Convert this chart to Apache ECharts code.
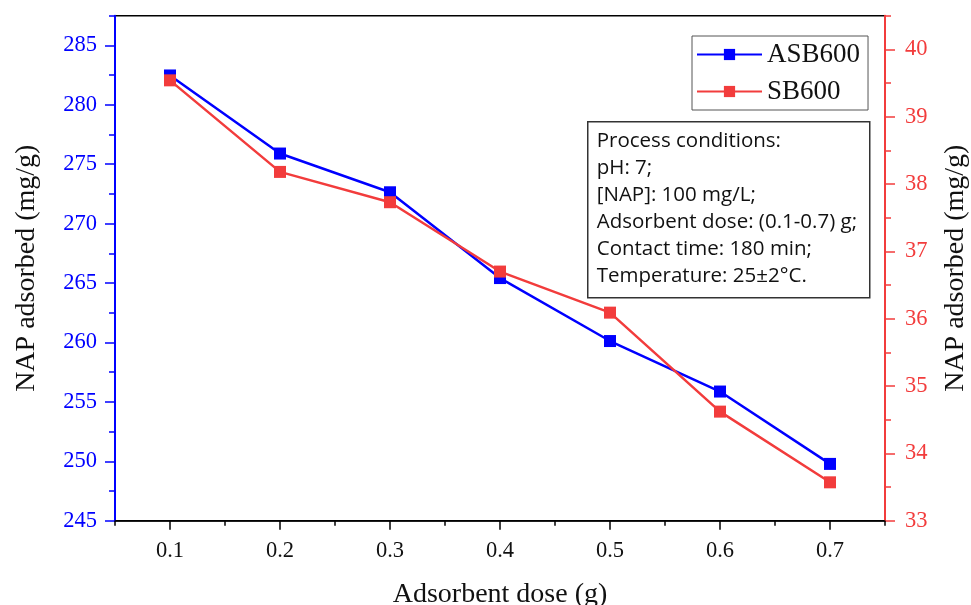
<!DOCTYPE html>
<html>
<head>
<meta charset="utf-8">
<script src="https://cdn.jsdelivr.net/npm/echarts@6/dist/echarts.min.js"></script>
<style>html,body{margin:0;padding:0;background:#fff;}#c{width:971px;height:605px;}</style>
</head>
<body>
<div id="c"></div>
<script>
// ---- data ----
const doses = [0.1, 0.2, 0.3, 0.4, 0.5, 0.6, 0.7];
const asb600 = [282.47, 275.9, 272.64, 265.42, 260.12, 255.87, 249.78];
const sb600 = [39.54, 38.18, 37.73, 36.70, 36.09, 34.62, 33.57];
const xMajorTicks = [0.1, 0.2, 0.3, 0.4, 0.5, 0.6, 0.7];
const xMinorTicks = [0.05, 0.15, 0.25, 0.35, 0.45, 0.55, 0.65, 0.75];
const leftMajorTicks = [245, 250, 255, 260, 265, 270, 275, 280, 285];
const leftMinorTicks = [247.5, 252.5, 257.5, 262.5, 267.5, 272.5, 277.5, 282.5, 287.5];
const rightMajorTicks = [33, 34, 35, 36, 37, 38, 39, 40];
const rightMinorTicks = [33.5, 34.5, 35.5, 36.5, 37.5, 38.5, 39.5, 40.5];
const conditionLines = [
  'Process conditions:',
  'pH: 7;',
  '[NAP]: 100 mg/L;',
  'Adsorbent dose: (0.1-0.7) g;',
  'Contact time: 180 min;',
  'Temperature: 25\u00B12\u00B0C.'
];

const BLUE = '#0000ff';
const RED = '#f23c3c';
const SERIF = 'Liberation Serif';

const chart = echarts.init(document.getElementById('c'), null, {renderer: 'canvas'});

function pairs(xs, ys) { return xs.map((x, i) => [x, ys[i]]); }
function inList(list, v) { return list.some(t => Math.abs(t - v) < 1e-6); }

const labelBase = {fontFamily: SERIF, fontSize: 22.5, fontWeight: 'normal'};

const option = {
  backgroundColor: '#fff',
  animation: false,
  textStyle: {fontFamily: SERIF},
  grid: {
    left: 115, right: 86, top: 15.7, bottom: 84.3,
    containLabel: false, outerBoundsMode: 'none',
    show: true, borderColor: '#000', borderWidth: 1.5, backgroundColor: 'transparent'
  },
  xAxis: [
    {
      type: 'value', min: 0.05, max: 0.75, interval: 0.05, position: 'bottom',
      axisLine: {show: true, lineStyle: {color: '#000', width: 1.5}},
      axisTick: {show: true, inside: false, length: 9, customValues: xMajorTicks, lineStyle: {color: '#000', width: 1.5}},
      axisLabel: Object.assign({show: true, margin: 19, color: '#111',
                  formatter: v => inList(xMajorTicks, v) ? (+v).toFixed(1) : ''}, labelBase),
      splitLine: {show: false},
      name: 'Adsorbent dose (g)', nameLocation: 'middle', nameGap: 60,
      nameTextStyle: {color: '#111', fontFamily: SERIF, fontSize: 28}
    },
    {
      type: 'value', min: 0.05, max: 0.75, position: 'bottom',
      axisLine: {show: false},
      axisTick: {show: true, inside: false, length: 5, customValues: xMinorTicks, lineStyle: {color: '#000', width: 1.5}},
      axisLabel: {show: false},
      splitLine: {show: false}
    }
  ],
  yAxis: [
    {
      type: 'value', min: 245, max: 287.5, interval: 5, position: 'left',
      axisLine: {show: true, lineStyle: {color: BLUE, width: 2}},
      axisTick: {show: true, inside: false, length: 10, customValues: leftMajorTicks, lineStyle: {color: BLUE, width: 1.5}},
      axisLabel: Object.assign({show: true, margin: 18, color: BLUE, showMaxLabel: false,
                  formatter: v => inList(leftMajorTicks, v) ? String(v) : ''}, labelBase),
      splitLine: {show: false},
      name: 'NAP adsorbed (mg/g)', nameLocation: 'middle', nameGap: 74, nameRotate: 90,
      nameTextStyle: {color: '#111', fontFamily: SERIF, fontSize: 28}
    },
    {
      type: 'value', min: 245, max: 287.5, position: 'left',
      axisLine: {show: false},
      axisTick: {show: true, inside: false, length: 6, customValues: leftMinorTicks, lineStyle: {color: BLUE, width: 1.5}},
      axisLabel: {show: false},
      splitLine: {show: false}
    },
    {
      type: 'value', min: 33, max: 40.5, interval: 1, position: 'right',
      axisLine: {show: true, lineStyle: {color: RED, width: 2}},
      axisTick: {show: true, inside: false, length: 10, customValues: rightMajorTicks, lineStyle: {color: RED, width: 1.5}},
      axisLabel: Object.assign({show: true, margin: 20, color: RED, showMaxLabel: false,
                  formatter: v => inList(rightMajorTicks, v) ? String(v) : ''}, labelBase),
      splitLine: {show: false},
      name: 'NAP adsorbed (mg/g)', nameLocation: 'middle', nameGap: 57, nameRotate: 90,
      nameTextStyle: {color: '#111', fontFamily: SERIF, fontSize: 28}
    },
    {
      type: 'value', min: 33, max: 40.5, position: 'right',
      axisLine: {show: false},
      axisTick: {show: true, inside: false, length: 6, customValues: rightMinorTicks, lineStyle: {color: RED, width: 1.5}},
      axisLabel: {show: false},
      splitLine: {show: false}
    }
  ],
  legend: {
    orient: 'vertical',
    left: 692, top: 36,
    padding: [5, 8, 5, 4],
    itemGap: 10,
    itemWidth: 65, itemHeight: 14,
    borderColor: '#555', borderWidth: 1,
    backgroundColor: '#fff',
    textStyle: {fontFamily: SERIF, fontSize: 27, color: '#111'},
    data: ['ASB600', 'SB600']
  },
  graphic: [
    {
      type: 'group', left: 587, top: 121, z: 100,
      children: [
        {type: 'rect', shape: {x: 0, y: 0, width: 282, height: 176},
         style: {fill: '#fff', stroke: '#333', lineWidth: 1.5}},
        {type: 'text', x: 9, y: 6,
         style: {text: conditionLines.join('\n'), fill: '#111', fontFamily: 'Open Sans', fontSize: 20.5, lineHeight: 27}}
      ]
    }
  ],
  series: [
    {
      name: 'ASB600', type: 'line', xAxisIndex: 0, yAxisIndex: 0,
      data: pairs(doses, asb600),
      symbol: 'rect', symbolSize: 12,
      lineStyle: {color: BLUE, width: 2.5},
      itemStyle: {color: BLUE}
    },
    {
      name: 'SB600', type: 'line', xAxisIndex: 0, yAxisIndex: 2,
      data: pairs(doses, sb600),
      symbol: 'rect', symbolSize: 12,
      lineStyle: {color: RED, width: 2.5},
      itemStyle: {color: RED}
    }
  ]
};
chart.setOption(option);
</script>
</body>
</html>
